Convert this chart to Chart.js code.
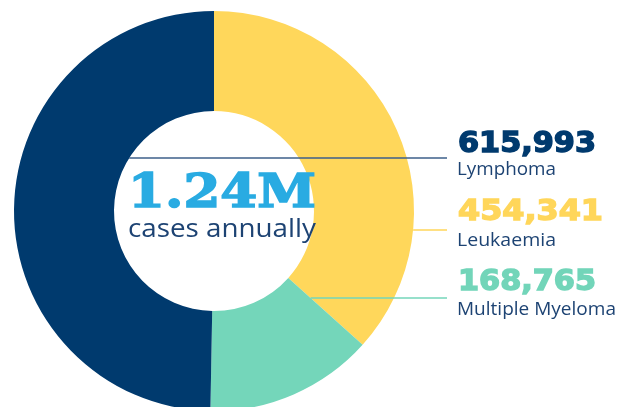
<!DOCTYPE html>
<html>
<head>
<meta charset="utf-8">
<script src="https://cdn.jsdelivr.net/npm/chart.js@4"></script>
<style>
  html, body { margin: 0; padding: 0; background: #fff; overflow: hidden; width: 628px; height: 407px; }
  #wrap { position: absolute; left: 0; top: 0; width: 628px; height: 422px; }
  .txt { position: absolute; top: 0; white-space: nowrap; line-height: 1; }
</style>
</head>
<body>
<div id="wrap"><canvas id="myChart"></canvas></div>
<script>
// data
var categories = ['Leukaemia', 'Multiple Myeloma', 'Lymphoma'];
var cases = [454341, 168765, 615993];
var sliceColors = ['#ffd75b', '#74d6ba', '#003a6e'];
var numberColors = ['#ffd65a', '#72d5b9', '#003a6e'];
var totalLabel = '1.24M';
var totalCaption = 'cases annually';

// where each callout sits (left, right, number baseline, label baseline, line y offset from centre)
var calloutLayout = [
    { left: 457, numRight: 604, labRight: 556, numBase: 220, labBase: 246, dy: 19 },
    { left: 457, numRight: 597, labRight: 616, numBase: 290, labBase: 315, dy: 87 },
    { left: 457, numRight: 597, labRight: 556, numBase: 152, labBase: 175, dy: -53 }
];
var lineEndX = 447;

// leader lines from the ring to the callouts
var leaderLines = {
    id: 'leaderLines',
    afterDatasetsDraw: function(chart) {
        var ctx = chart.ctx;
        var arcs = chart.getDatasetMeta(0).data;
        ctx.save();
        ctx.lineWidth = 1.5;
        arcs.forEach(function(arc, i) {
            var dy = calloutLayout[i].dy;
            var cx = arc.x, cy = arc.y, sx;
            if (i === 2) {
                // biggest slice: starts on the inner edge of the hole
                sx = cx - Math.sqrt(arc.innerRadius * arc.innerRadius - dy * dy);
                ctx.strokeStyle = '#3c5f8a';
            } else if (i === 0) {
                sx = cx + Math.sqrt(arc.outerRadius * arc.outerRadius - dy * dy);
                ctx.strokeStyle = '#ffd65a';
            } else {
                var a = arc.startAngle;
                sx = cx + (dy / Math.sin(a)) * Math.cos(a);
                ctx.strokeStyle = '#74d6ba';
            }
            ctx.beginPath();
            ctx.moveTo(sx, cy + dy);
            ctx.lineTo(lineEndX, cy + dy);
            ctx.stroke();
        });
        ctx.restore();
    }
};

var ctx = document.getElementById('myChart').getContext('2d');
var myChart = new Chart(ctx, {
    type: 'doughnut',
    data: {
        labels: categories,
        datasets: [{
            data: cases,
            backgroundColor: sliceColors,
            borderWidth: 0
        }]
    },
    options: {
        responsive: true,
        maintainAspectRatio: false,
        animation: false,
        cutout: '50%',
        rotation: 0,
        layout: { padding: { left: 14, right: 214, top: 11, bottom: 11 } },
        plugins: {
            legend: { display: false },
            tooltip: { enabled: false }
        }
    },
    plugins: [leaderLines]
});

// text as html on top, fitted to the reference boxes
function placeText(text, font, color, left, right, baseline, stroke) {
    var el = document.createElement('div');
    el.className = 'txt';
    el.style.left = left + 'px';
    el.style.font = font;
    el.style.color = color;
    if (stroke) {
        el.style.webkitTextStroke = stroke + 'px ' + color;
    }
    el.textContent = text;
    var probe = document.createElement('span');
    probe.style.display = 'inline-block';
    probe.style.width = '0';
    probe.style.height = '0';
    el.appendChild(probe);
    document.body.appendChild(el);
    var w = el.getBoundingClientRect().width;
    var base = probe.getBoundingClientRect().top;
    el.style.top = (baseline - base) + 'px';
    el.style.transformOrigin = '0 0';
    el.style.transform = 'scaleX(' + ((right - left) / w) + ')';
}

function drawTexts() {
    placeText(totalLabel, 'bold 47px "DejaVu Serif"', '#29abe2', 128, 316, 207, 1.6);
    placeText(totalCaption, '25px "Open Sans"', '#1d4373', 128, 316, 237);
    [2, 0, 1].forEach(function(i) {
        var l = calloutLayout[i];
        placeText(cases[i].toLocaleString('en-US'), 'bold 28px "DejaVu Sans"', numberColors[i], l.left + 1, l.numRight - 1, l.numBase, 1.4);
        placeText(categories[i], '18px "Open Sans"', '#1d4373', l.left, l.labRight, l.labBase);
    });
}
if (document.fonts && document.fonts.ready) {
    document.fonts.ready.then(drawTexts);
} else {
    drawTexts();
}
</script>
</body>
</html>
